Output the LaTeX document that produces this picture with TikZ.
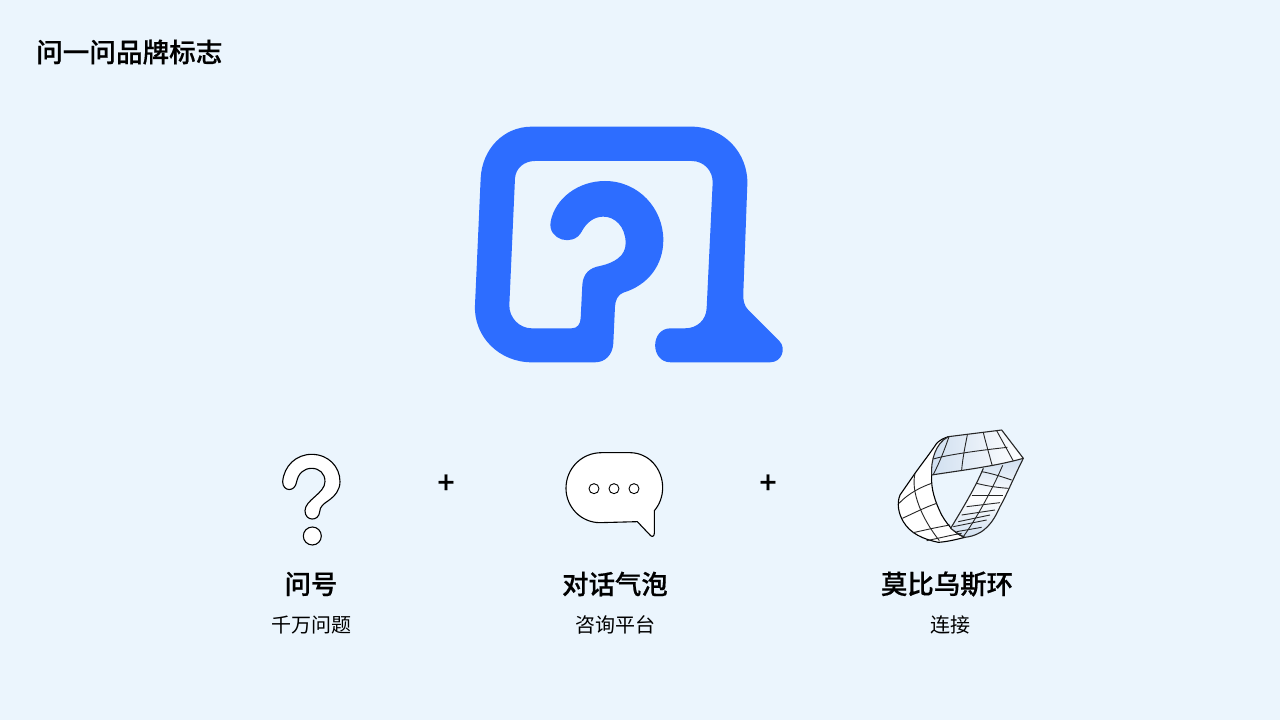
\documentclass[tikz,border=0pt]{standalone}
\usepackage{fontspec}
\setmainfont[BoldFont={Noto Sans CJK SC Medium},BoldFeatures={FakeBold=0.5}]{Noto Sans CJK SC}
\definecolor{pagebg}{HTML}{EBF5FD}
\definecolor{logoblue}{HTML}{2D6DFF}
\definecolor{bandgrey}{HTML}{D0DFF0}
\tikzset{
  titletext/.style={font=\fontsize{26.6}{30}\selectfont\bfseries, inner sep=0pt},
  headtext/.style={font=\fontsize{26.4}{30}\selectfont\bfseries, inner sep=0pt},
  subtext/.style={font=\fontsize{20}{24}\selectfont, inner sep=0pt},
  plustext/.style={font=\fontsize{30}{30}\selectfont\bfseries, inner sep=0pt},
  iconline/.style={draw=black, line width=1.1pt, fill=white, line join=round},
  gridline/.style={draw=black!85, line width=0.9pt, line join=round},
}
\begin{document}
\begin{tikzpicture}[x=1pt,y=-1pt]
\fill[pagebg] (0,0) rectangle (1280,720);
\useasboundingbox (0,0) rectangle (1280,720);

\node[titletext, anchor=west] (title) at (36,52) {问一问品牌标志};

% logo
\begin{scope}[shift={(460pt,-110pt)},x=0.3333pt,y=-0.3333pt]
\fill[logoblue] (215,50) -- (695,50)
  .. controls (790,50) and (866,128) .. (862,225)
  -- (850,550) .. controls (849,570) and (852,587) .. (865,600)
  -- (958,693) .. controls (980,715) and (966,757) .. (930,757)
  -- (632,757) .. controls (570,757) and (570,655) .. (632,655)
  -- (675,655) .. controls (712,655) and (738,630) .. (740,595)
  -- (758,220) .. controls (760,183) and (732,153) .. (695,153)
  -- (225,153) .. controls (192,153) and (167,175) .. (165,205)
  -- (148,585) .. controls (147,623) and (178,655) .. (215,655)
  -- (335,655) .. controls (352,655) and (361,643) .. (362,625)
  -- (367,525) .. controls (369,490) and (390,473) .. (420,468)
  .. controls (465,458) and (497,437) .. (497,400)
  .. controls (497,350) and (465,320) .. (430,320)
  .. controls (400,320) and (378,340) .. (365,365)
  .. controls (340,412) and (262,390) .. (272,335)
  .. controls (285,265) and (355,213) .. (435,213)
  .. controls (535,213) and (610,295) .. (610,390)
  .. controls (610,465) and (565,525) .. (490,548)
  .. controls (474,554) and (466,570) .. (465,590)
  -- (460,700) .. controls (458,733) and (437,757) .. (405,757)
  -- (215,757) .. controls (118,757) and (40,680) .. (45,585)
  -- (62,205) .. controls (66,118) and (130,50) .. (215,50) -- cycle;
\end{scope}

% question mark
\begin{scope}[shift={(260pt,-440pt)},x=0.3333pt,y=-0.3333pt]
\draw[iconline] (155,43) .. controls (205,43) and (240,80) .. (240,125)
  .. controls (240,150) and (225,168) .. (205,182)
  .. controls (190,192) and (180,200) .. (179,215)
  .. controls (177,245) and (135,245) .. (135,212)
  .. controls (135,180) and (195,160) .. (195,125)
  .. controls (195,100) and (178,85) .. (155,85)
  .. controls (132,85) and (115,100) .. (110,125)
  .. controls (105,158) and (68,155) .. (68,125)
  .. controls (72,78) and (108,43) .. (155,43) -- cycle;
\node[circle, iconline, minimum size=18pt, inner sep=0pt] (qdot) at (157,288) {};
\end{scope}

% speech bubble
\begin{scope}[shift={(550pt,-440pt)},x=0.3333pt,y=-0.3333pt]
\draw[iconline] (155,38) -- (240,38)
  .. controls (295,38) and (338,85) .. (338,143)
  .. controls (338,170) and (328,195) .. (313,212)
  -- (313,280) .. controls (313,290) and (305,292) .. (300,285)
  -- (262,245) -- (150,248)
  .. controls (92,248) and (48,200) .. (48,145)
  .. controls (48,85) and (95,38) .. (155,38) -- cycle;
\foreach \n/\x in {a/132,b/192,c/252}
  \node[circle, draw=black, line width=0.9pt, minimum size=10pt, inner sep=0pt] (dot\n) at (\x,146) {};
\end{scope}

% moebius band
\begin{scope}[shift={(880pt,-420pt)},x=0.3333pt,y=-0.3333pt]
% left band
\draw[iconline] (205,50) .. controls (190,55) and (180,60) .. (170,70)
  .. controls (150,100) and (125,132) .. (105,160)
  -- (60,225) .. controls (50,250) and (55,280) .. (70,305)
  .. controls (90,340) and (130,358) .. (175,367)
  .. controls (205,365) and (230,358) .. (255,352)
  .. controls (230,345) and (205,320) .. (185,285)
  .. controls (165,245) and (152,205) .. (155,165) -- cycle;
% right band
\shade[top color=bandgrey, bottom color=bandgrey, middle color=white]
  (310,145) -- (430,115) .. controls (400,175) and (380,225) .. (360,260)
  .. controls (340,305) and (315,345) .. (255,352)
  .. controls (240,345) and (225,335) .. (212,325)
  .. controls (245,270) and (285,205) .. (310,145) -- cycle;
\draw[gridline, line width=1.1pt] (430,115) .. controls (400,175) and (380,225) .. (360,260)
  .. controls (340,305) and (315,345) .. (255,352)
  .. controls (240,345) and (225,335) .. (212,325)
  .. controls (245,270) and (285,205) .. (310,145);
% top band
\shade[left color=bandgrey, middle color=white, right color=white]
  (205,50) -- (365,30) -- (430,115) .. controls (340,140) and (250,150) .. (155,165)
  .. controls (152,125) and (165,70) .. (205,50) -- cycle;
\draw[gridline, line width=1.1pt] (205,50) -- (365,30) -- (430,115)
  .. controls (340,140) and (250,150) .. (155,165)
  .. controls (152,125) and (165,70) .. (205,50) -- cycle;
% grid, top band
\draw[gridline] (160,117) .. controls (200,105) and (290,92) .. (382,82);
\draw[gridline] (207,50) .. controls (195,85) and (180,125) .. (160,163);
\draw[gridline] (262,45) .. controls (255,80) and (248,115) .. (245,150);
\draw[gridline] (310,38) .. controls (318,70) and (328,105) .. (337,138);
\draw[gridline] (350,32) .. controls (365,60) and (385,95) .. (400,123);
% grid, left band
\draw[gridline] (105,160) .. controls (92,215) and (125,295) .. (178,362);
\draw[gridline] (155,190) .. controls (125,200) and (85,220) .. (57,250);
\draw[gridline] (170,250) .. controls (135,262) and (100,280) .. (67,295);
\draw[gridline] (210,315) .. controls (170,322) and (135,330) .. (100,338);
\draw[gridline] (245,340) .. controls (210,346) and (175,355) .. (140,362);
% grid, right band
\draw[gridline] (368,136) .. controls (345,190) and (300,280) .. (250,350);
\draw[gridline] (305,155) .. controls (335,160) and (365,170) .. (395,180);
\draw[gridline] (290,190) .. controls (320,198) and (355,203) .. (385,205);
\draw[gridline] (275,225) -- (370,225);
\draw[gridline] (260,260) -- (360,248);
\draw[gridline] (245,285) -- (345,270);
\draw[gridline] (235,305) -- (330,285);
\draw[gridline] (220,320) -- (320,300);
\draw[gridline] (230,335) -- (305,322);
\end{scope}

\node[plustext] (plus1) at (446,484) {+};
\node[plustext] (plus2) at (768,484) {+};

\node[headtext] (head1) at (311,584) {问号};
\node[headtext] (head2) at (615,584) {对话气泡};
\node[headtext] (head3) at (947,584) {莫比乌斯环};
\node[subtext] (sub1) at (311,625) {千万问题};
\node[subtext] (sub2) at (615,625) {咨询平台};
\node[subtext] (sub3) at (950,625) {连接};
\end{tikzpicture}
\end{document}
